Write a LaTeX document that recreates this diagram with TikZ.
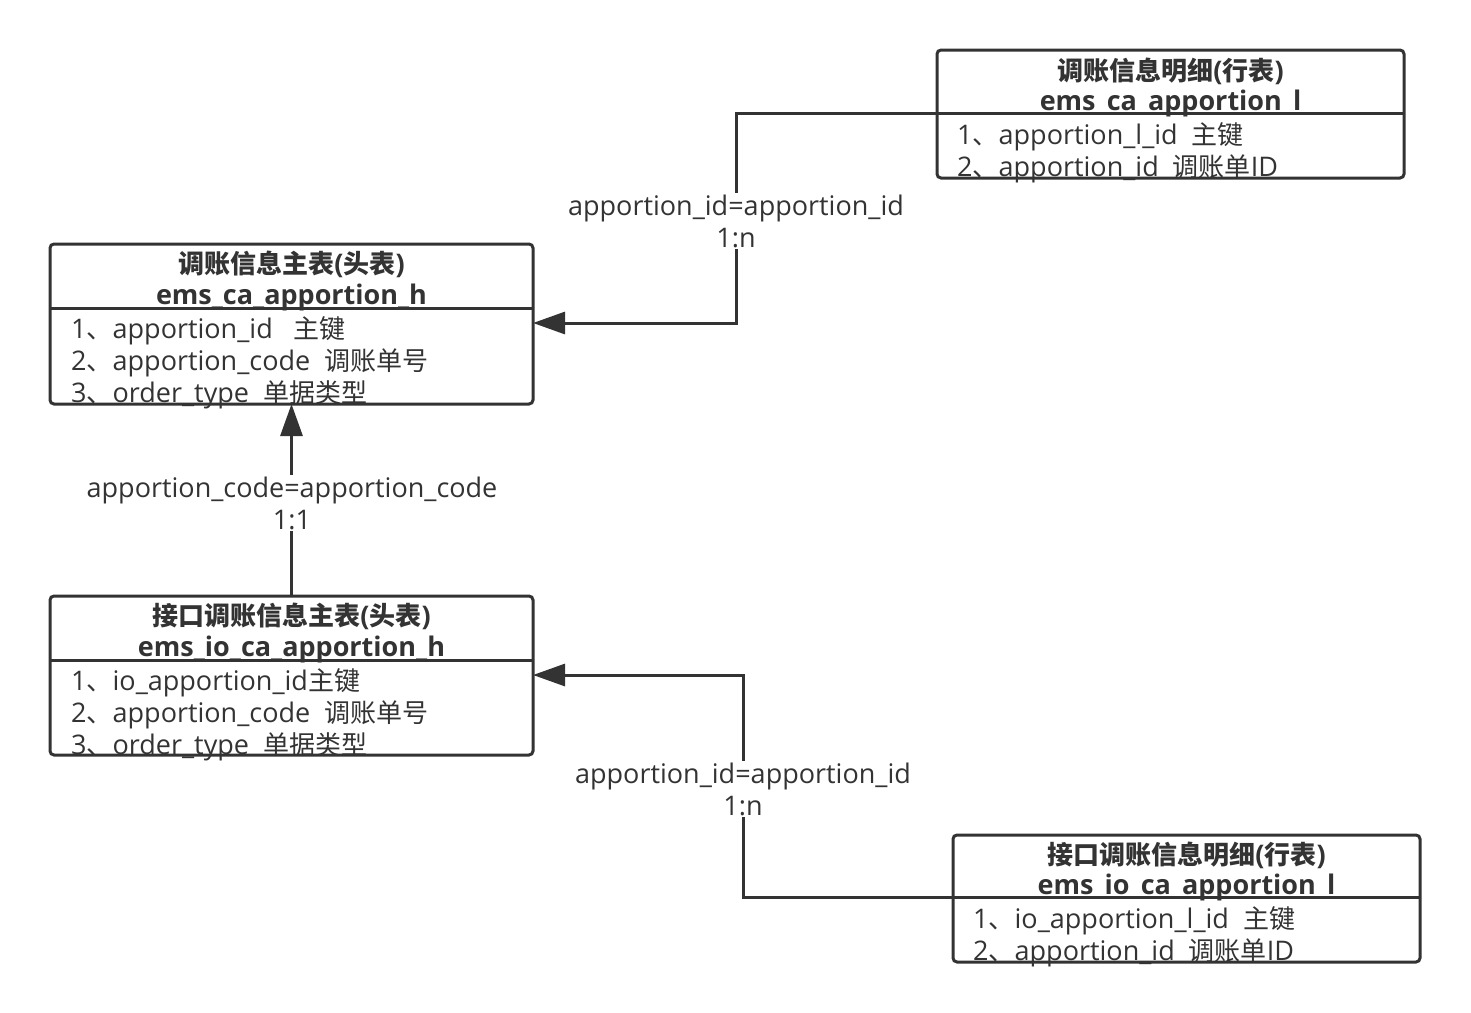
\documentclass[tikz,border=0pt]{standalone}
\usepackage{fontspec}
\setmainfont{Open Sans}
\newfontfamily\cjk{Noto Sans CJK SC}[Scale=0.963]
\usetikzlibrary{arrows.meta, calc}
\definecolor{ink}{HTML}{333333}
\newcommand{\zh}[1]{{\cjk #1}}

\tikzset{
    tablebox/.style={draw=ink, line width=3pt, rounded corners=4pt, inner sep=0pt, outer sep=0pt},
    tabletitle/.style={text=ink, anchor=base, inner sep=0pt, font=\fontsize{27}{32}\selectfont\bfseries},
    field/.style={text=ink, anchor=base west, inner sep=0pt, font=\fontsize{27}{32}\selectfont},
    rel/.style={text=ink, fill=white, align=center, inner sep=2pt, font=\fontsize{27}{32}\selectfont},
    link/.style={draw=ink, line width=3pt},
    tip/.style={-{Triangle[length=32pt, width=22pt]}}
}

\begin{document}
\begin{tikzpicture}[x=1pt, y=-1pt]
    \useasboundingbox (0,0) rectangle (1471,1012);

    % head table
    \node[tablebox, minimum width=483pt, minimum height=160pt] (ha) at (291.5,324) {};
    \draw[link] (ha.west |- 0,308) coordinate (hadivw) -- (ha.east |- 0,308) coordinate (hadive);
    \node[tabletitle] (hat) at (291.5,273) {\zh{调账信息主表}(\zh{头表})};
    \node[tabletitle] (han) at (291.5,304) {ems\_ca\_apportion\_h};
    \node[field] (ha1) at (71,338) {1\zh{、}apportion\_id\ \ \ \zh{主键}};
    \node[field] (ha2) at (71,370) {2\zh{、}apportion\_code\ \ \zh{调账单号}};
    \node[field] (ha3) at (71,402) {3\zh{、}order\_type\ \ \zh{单据类型}};

    % line table
    \node[tablebox, minimum width=467pt, minimum height=128pt] (la) at (1170.5,114) {};
    \draw[link] (la.west |- 0,113) coordinate (ladivw) -- (la.east |- 0,113) coordinate (ladive);
    \node[tabletitle] (lat) at (1170.5,80) {\zh{调账信息明细}(\zh{行表})};
    \node[tabletitle] (lan) at (1170.5,110) {ems\_ca\_apportion\_l};
    \node[field] (la1) at (957,144) {1\zh{、}apportion\_l\_id\ \ \zh{主键}};
    \node[field] (la2) at (957,176) {2\zh{、}apportion\_id\ \ \zh{调账单}ID};

    % io head table
    \node[tablebox, minimum width=483pt, minimum height=159pt] (ia) at (291.5,675.5) {};
    \draw[link] (ia.west |- 0,660) coordinate (iadivw) -- (ia.east |- 0,660) coordinate (iadive);
    \node[tabletitle] (iat) at (291.5,625) {\zh{接口调账信息主表}(\zh{头表})};
    \node[tabletitle] (ian) at (291.5,656) {ems\_io\_ca\_apportion\_h};
    \node[field] (ia1) at (71,690) {1\zh{、}io\_apportion\_id\zh{主键}};
    \node[field] (ia2) at (71,722) {2\zh{、}apportion\_code\ \ \zh{调账单号}};
    \node[field] (ia3) at (71,754) {3\zh{、}order\_type\ \ \zh{单据类型}};

    % io line table
    \node[tablebox, minimum width=467pt, minimum height=127pt] (il) at (1186.5,898.5) {};
    \draw[link] (il.west |- 0,897) coordinate (ildivw) -- (il.east |- 0,897) coordinate (ildive);
    \node[tabletitle] (ilt) at (1186.5,864) {\zh{接口调账信息明细}(\zh{行表})};
    \node[tabletitle] (iln) at (1186.5,894) {ems\_io\_ca\_apportion\_l};
    \node[field] (il1) at (973,928) {1\zh{、}io\_apportion\_l\_id\ \ \zh{主键}};
    \node[field] (il2) at (973,960) {2\zh{、}apportion\_id\ \ \zh{调账单}ID};

    % relations
    \draw[link, tip] (ladivw) -- (736,113) -- (736,323) -- (ha.east |- 0,323);
    \node[rel] (r1) at (736,221) {apportion\_id=apportion\_id\\1:n};

    \draw[link, tip] (ia.north) -- (ha.south);
    \node[rel] (r2) at (292,503) {apportion\_code=apportion\_code\\1:1};

    \draw[link, tip] (ildivw) -- (743,897) -- (743,675) -- (ia.east |- 0,675);
    \node[rel] (r3) at (743,789) {apportion\_id=apportion\_id\\1:n};
\end{tikzpicture}
\end{document}
